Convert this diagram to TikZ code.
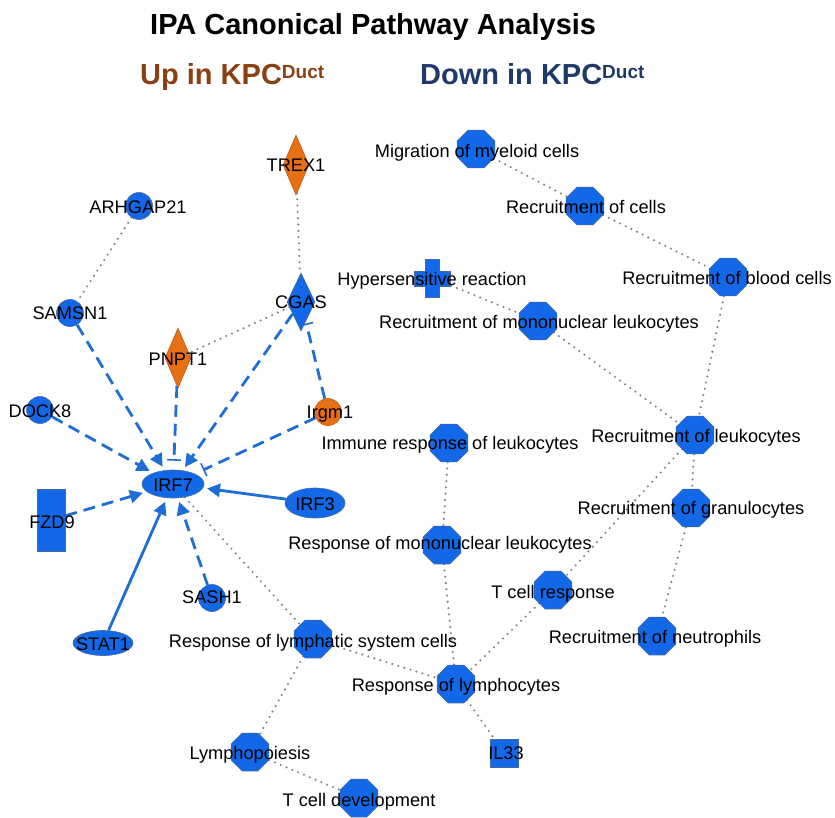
\documentclass[tikz,border=0pt]{standalone}
\usepackage{fontspec}
\setmainfont{Liberation Sans}
\usetikzlibrary{shapes.geometric,arrows.meta,backgrounds}
\definecolor{nodeblue}{RGB}{18,104,230}
\definecolor{nodeedge}{RGB}{70,105,160}
\definecolor{nodeorange}{RGB}{232,112,20}
\definecolor{orangeedge}{RGB}{190,90,20}
\definecolor{edgeblue}{RGB}{30,110,212}
\definecolor{dotgray}{RGB}{128,128,128}
\definecolor{upbrown}{RGB}{139,64,20}
\definecolor{downnavy}{RGB}{31,58,104}
\begin{document}
\begin{tikzpicture}[x=1pt,y=-1pt,
 shp/.style={inner sep=0pt, line width=0.6pt},
 blfill/.style={shp, fill=nodeblue, draw=nodeedge},
 orfill/.style={shp, fill=nodeorange, draw=orangeedge},
 oct/.style={blfill, regular polygon, regular polygon sides=8, minimum size=41pt},
 circ/.style={circle, minimum size=27pt},
 ell/.style={ellipse},
 dia/.style={diamond},
 txt/.style={font=\fontsize{18.2}{20}\selectfont, inner sep=0pt, text height=13pt, text depth=0pt},
 dotln/.style={draw=dotgray, line width=2.3pt, line cap=round, dash pattern=on 0pt off 6.3pt},
 act/.style={draw=edgeblue, line width=2.8pt, dash pattern=on 12pt off 7pt, -{Triangle[length=13pt,width=13pt]}, shorten >=4pt},
 inh/.style={draw=edgeblue, line width=2.8pt, dash pattern=on 12pt off 7pt, -{Bar[width=14pt,line width=1.6pt]}, shorten >=9pt},
 sol/.style={draw=edgeblue, line width=2.8pt, -{Triangle[length=13pt,width=13pt]}, shorten >=4pt},
]
% titles
\node[anchor=base west, inner sep=0pt, font=\bfseries\fontsize{29}{32}\selectfont] (title) at (150,34) {IPA Canonical Pathway Analysis};
\node[anchor=base west, inner sep=0pt, text=upbrown, font=\bfseries\fontsize{29}{32}\selectfont] (up) at (140,84) {Up in KPC\raisebox{6pt}{\fontsize{19}{20}\selectfont Duct}};
\node[anchor=base west, inner sep=0pt, text=downnavy, font=\bfseries\fontsize{29}{32}\selectfont] (down) at (420,84) {Down in KPC\raisebox{6pt}{\fontsize{19}{20}\selectfont Duct}};

% gene nodes
\node[orfill, dia, minimum width=26pt, minimum height=60pt] (trex1) at (296,165) {};
\node[blfill, dia, minimum width=28pt, minimum height=58pt] (cgas) at (301,302) {};
\node[orfill, dia, minimum width=26pt, minimum height=60pt] (pnpt1) at (178,358) {};
\node[blfill, circ] (arhgap21) at (139,206) {};
\node[blfill, circ] (samsn1) at (70,313) {};
\node[blfill, circ] (dock8) at (40,410) {};
\node[orfill, circ] (irgm1) at (328,412) {};
\node[blfill, circ] (sash1) at (212,598) {};
\node[blfill, ell, minimum width=62pt, minimum height=28pt] (irf7) at (173,484) {};
\node[blfill, ell, minimum width=60pt, minimum height=30pt] (irf3) at (315,503) {};
\node[blfill, ell, minimum width=60pt, minimum height=25pt] (stat1) at (103,643) {};
\node[blfill, rectangle, minimum width=28pt, minimum height=62pt] (fzd9) at (51,520) {};
\node[blfill, rectangle, minimum width=28pt, minimum height=28pt] (il33) at (504,753) {};
\node[blfill, rectangle, minimum width=36pt, minimum height=15pt] (hyperh) at (432,279) {};
\node[blfill, rectangle, minimum width=14pt, minimum height=38pt] (hyper) at (432,278) {};
\node[fill=nodeblue, inner sep=0pt, minimum width=34pt, minimum height=13pt] (hyperc) at (432,279) {};

% function nodes
\node[oct] (migr) at (476,149) {};
\node[oct] (rcells) at (585,206) {};
\node[oct] (rblood) at (728,277) {};
\node[oct] (rmono) at (538,321) {};
\node[oct] (rleuk) at (695,435) {};
\node[oct] (immune) at (449,443) {};
\node[oct] (rgran) at (691,508) {};
\node[oct] (respmono) at (442,545) {};
\node[oct] (tresp) at (553,590) {};
\node[oct] (rneut) at (657,636) {};
\node[oct] (lymsys) at (313,639) {};
\node[oct] (resplym) at (456,684) {};
\node[oct] (lympho) at (250,752) {};
\node[oct] (tdev) at (359,798) {};

\begin{pgfonlayer}{background}
\fill[white] (0,0) rectangle (835,813);
\draw[dotln] (arhgap21) -- (samsn1);
\draw[dotln] (trex1) -- (cgas);
\draw[dotln] (cgas) -- (pnpt1);
\draw[dotln] (migr) -- (rcells);
\draw[dotln] (rcells) -- (rblood);
\draw[dotln] (rblood) -- (rleuk);
\draw[dotln] (hyper) -- (rmono);
\draw[dotln] (rmono) -- (rleuk);
\draw[dotln] (rleuk) -- (rgran);
\draw[dotln] (rleuk) -- (tresp);
\draw[dotln] (rgran) -- (rneut);
\draw[dotln] (immune) -- (respmono);
\draw[dotln] (respmono) -- (resplym);
\draw[dotln] (tresp) -- (resplym);
\draw[dotln] (irf7) -- (lymsys);
\draw[dotln] (lymsys) -- (resplym);
\draw[dotln] (lymsys) -- (lympho);
\draw[dotln] (resplym) -- (il33);
\draw[dotln] (lympho) -- (tdev);
\draw[act] (samsn1) -- (irf7);
\draw[inh] (pnpt1) -- (irf7);
\draw[act] (cgas) -- (irf7);
\draw[inh] (irgm1) -- (irf7);
\draw[inh, shorten >=2pt] (irgm1) -- (cgas);
\draw[act] (dock8) -- (irf7);
\draw[act] (fzd9) -- (irf7);
\draw[act] (sash1) -- (irf7);
\draw[sol] (irf3) -- (irf7);
\draw[sol] (stat1) -- (irf7);
\end{pgfonlayer}

% labels
\node[txt] (t-trex1) at (296,165) {TREX1};
\node[txt] (t-cgas) at (301,302) {CGAS};
\node[txt] (t-pnpt1) at (178,359) {PNPT1};
\node[txt] (t-arhgap21) at (138,207) {ARHGAP21};
\node[txt] (t-samsn1) at (70,313) {SAMSN1};
\node[txt] (t-dock8) at (40,411) {DOCK8};
\node[txt] (t-irgm1) at (330,412) {Irgm1};
\node[txt] (t-sash1) at (212,597) {SASH1};
\node[txt] (t-irf7) at (173,485) {IRF7};
\node[txt] (t-irf3) at (315,504) {IRF3};
\node[txt] (t-stat1) at (103,644) {STAT1};
\node[txt] (t-fzd9) at (52,522) {FZD9};
\node[txt] (t-il33) at (506,753) {IL33};
\node[txt] (t-hyper) at (432,279) {Hypersensitive reaction};
\node[txt] (t-migr) at (477,151) {Migration of myeloid cells};
\node[txt] (t-rcells) at (586,207) {Recruitment of cells};
\node[txt] (t-rblood) at (727,278) {Recruitment of blood cells};
\node[txt] (t-rmono) at (539,322) {Recruitment of mononuclear leukocytes};
\node[txt] (t-rleuk) at (696,436) {Recruitment of leukocytes};
\node[txt] (t-immune) at (450,443) {Immune response of leukocytes};
\node[txt] (t-rgran) at (691,508) {Recruitment of granulocytes};
\node[txt] (t-respmono) at (440,543) {Response of mononuclear leukocytes};
\node[txt] (t-tresp) at (553,592) {T cell response};
\node[txt] (t-rneut) at (655,637) {Recruitment of neutrophils};
\node[txt] (t-lymsys) at (313,641) {Response of lymphatic system cells};
\node[txt] (t-resplym) at (456,685) {Response of lymphocytes};
\node[txt] (t-lympho) at (250,753) {Lymphopoiesis};
\node[txt] (t-tdev) at (359,800) {T cell development};
\useasboundingbox (0,0) rectangle (835,813);
\end{tikzpicture}
\end{document}
